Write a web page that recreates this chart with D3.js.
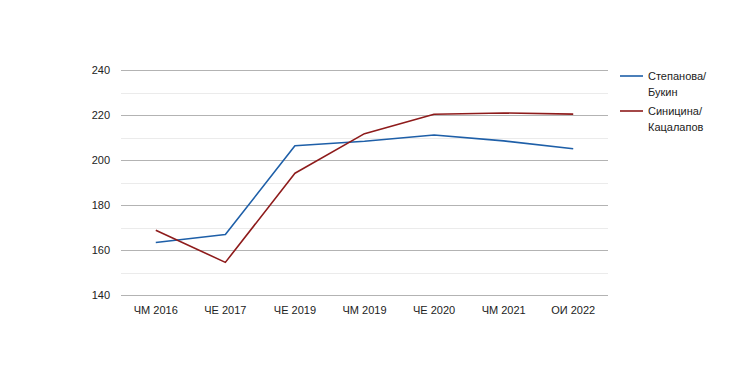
<!DOCTYPE html>
<html><head><meta charset="utf-8">
<script src="https://cdn.jsdelivr.net/npm/d3@7"></script>
<style>body{margin:0;background:#fff}</style>
</head><body>
<svg id="c" width="730" height="365"></svg>
<script>
const categories = ["ЧМ 2016","ЧЕ 2017","ЧЕ 2019","ЧМ 2019","ЧЕ 2020","ЧМ 2021","ОИ 2022"];
const seriesNames = [["Степанова/","Букин"],["Синицина/","Кацалапов"]];
const stepanovaBukin = [163.3, 166.9, 206.3, 208.3, 211.1, 208.5, 205.0];
const sinitsinaKatsalapov = [168.8, 154.5, 194.1, 211.7, 220.3, 220.9, 220.4];
const yTicks = [140,160,180,200,220,240];
const yMinor = [150,170,190,210,230];
const colors = ["#1e5fa8","#8e1b1b"];

const svg = d3.select("#c");
const pL = 121, pR = 608, pT = 70, pB = 295;
const x = d3.scalePoint().domain(categories).range([pL,pR]).padding(0.5);
const y = d3.scaleLinear().domain([140,240]).range([pB,pT]);
const font = "'Liberation Sans', Arial, sans-serif";

svg.append("g").selectAll("line").data(yMinor).join("line")
  .attr("x1",pL).attr("x2",pR)
  .attr("y1",d=>Math.round(y(d))+0.5).attr("y2",d=>Math.round(y(d))+0.5)
  .attr("stroke","#ebebeb").attr("stroke-width",1);
svg.append("g").selectAll("line").data(yTicks).join("line")
  .attr("x1",pL).attr("x2",pR)
  .attr("y1",d=>Math.round(y(d))+0.5).attr("y2",d=>Math.round(y(d))+0.5)
  .attr("stroke","#b3b3b3").attr("stroke-width",1);

svg.append("g").selectAll("text").data(yTicks).join("text")
  .attr("x",110).attr("y",d=>y(d)+4)
  .attr("text-anchor","end").attr("font-family",font).attr("font-size",11).attr("fill","#222")
  .text(d=>d);
svg.append("g").selectAll("text").data(categories).join("text")
  .attr("x",d=>x(d)).attr("y",314)
  .attr("text-anchor","middle").attr("font-family",font).attr("font-size",11).attr("fill","#222")
  .text(d=>d);

const line = d3.line().x((d,i)=>x(categories[i])).y(d=>y(d));
[stepanovaBukin, sinitsinaKatsalapov].forEach((s,k)=>{
  svg.append("path").datum(s).attr("d",line).attr("fill","none")
    .attr("stroke",colors[k]).attr("stroke-width",1.6).attr("stroke-linejoin","round");
});

const lg = svg.append("g");
seriesNames.forEach((nm,k)=>{
  const yy = 76 + k*35;
  lg.append("line").attr("x1",620).attr("x2",643).attr("y1",yy).attr("y2",yy)
    .attr("stroke",colors[k]).attr("stroke-width",1.6);
  nm.forEach((t,j)=>{
    lg.append("text").attr("x",648).attr("y",yy+4+j*16).attr("font-family",font)
      .attr("font-size",11).attr("fill","#222").text(t);
  });
});
</script>
</body></html>
